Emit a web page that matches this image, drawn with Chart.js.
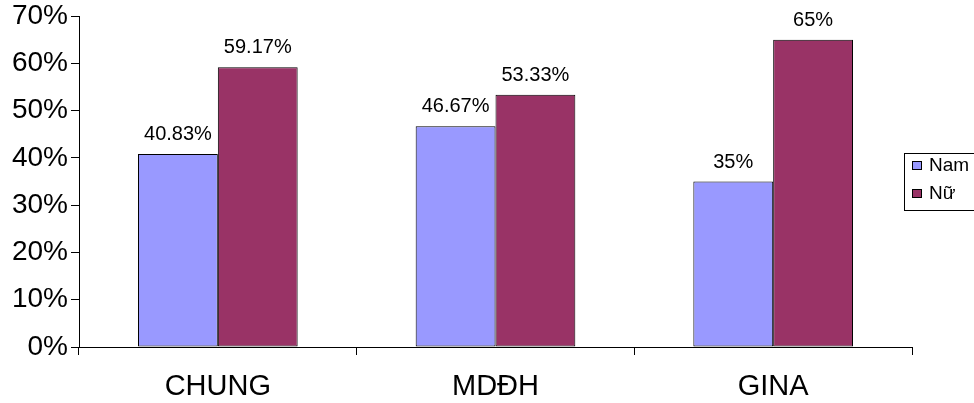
<!DOCTYPE html>
<html lang="vi">
<head>
    <meta charset="UTF-8">
    <title>Nam / Nữ</title>
    <script src="https://cdn.jsdelivr.net/npm/chart.js@4.4.0/dist/chart.umd.min.js"></script>
    <style>
        html, body { margin: 0; padding: 0; background: #ffffff; }
        #wrap { width: 974px; height: 403px; }
    </style>
</head>
<body>
    <div id="wrap"><canvas id="genderChart" width="974" height="403"></canvas></div>

    <script>
        // Data
        const categories = ['CHUNG', 'MDĐH', 'GINA'];
        const namValues = [40.83, 46.67, 35];
        const nuValues = [59.17, 53.33, 65];
        const namLabels = ['40.83%', '46.67%', '35%'];
        const nuLabels = ['59.17%', '53.33%', '65%'];
        const yTicks = [0, 10, 20, 30, 40, 50, 60, 70];

        const FONT = 'Liberation Sans, Arial, sans-serif';

        // Value labels above each bar
        const valueLabels = {
            id: 'valueLabels',
            afterDatasetsDraw(chart) {
                const ctx = chart.ctx;
                const texts = [namLabels, nuLabels];
                ctx.save();
                ctx.font = '20px ' + FONT;
                ctx.fillStyle = '#000000';
                ctx.textAlign = 'center';
                ctx.textBaseline = 'alphabetic';
                chart.data.datasets.forEach((ds, i) => {
                    chart.getDatasetMeta(i).data.forEach((bar, j) => {
                        ctx.fillText(texts[i][j], bar.x, bar.y - 14);
                    });
                });
                ctx.restore();
            }
        };

        // Boxed legend on the right, like the original
        const boxLegend = {
            id: 'boxLegend',
            afterDraw(chart) {
                const ctx = chart.ctx;
                ctx.save();
                ctx.strokeStyle = '#000000';
                ctx.lineWidth = 1;
                ctx.strokeRect(904.5, 153.5, 74, 57);
                chart.data.datasets.forEach((ds, i) => {
                    const y = 165 + i * 28;
                    ctx.fillStyle = ds.backgroundColor;
                    ctx.fillRect(912, y - 4, 10, 9);
                    ctx.strokeRect(912.5, y - 3.5, 9, 8);
                    ctx.fillStyle = '#000000';
                    ctx.font = '19px ' + FONT;
                    ctx.textBaseline = 'middle';
                    ctx.textAlign = 'left';
                    ctx.fillText(ds.label, 929, y + 1);
                });
                ctx.restore();
            }
        };

        const ctx = document.getElementById('genderChart').getContext('2d');
        new Chart(ctx, {
            type: 'bar',
            data: {
                labels: categories,
                datasets: [
                    {
                        label: 'Nam',
                        data: namValues,
                        backgroundColor: '#9999FF',
                        borderColor: '#000000',
                        borderWidth: 1,
                        borderSkipped: false,
                        categoryPercentage: 0.575,
                        barPercentage: 1
                    },
                    {
                        label: 'Nữ',
                        data: nuValues,
                        backgroundColor: '#993366',
                        borderColor: '#000000',
                        borderWidth: 1,
                        borderSkipped: false,
                        categoryPercentage: 0.575,
                        barPercentage: 1
                    }
                ]
            },
            options: {
                responsive: false,
                animation: false,
                layout: { padding: { top: 16, right: 62, left: 0, bottom: 0 } },
                plugins: {
                    legend: { display: false },
                    tooltip: { enabled: false }
                },
                scales: {
                    x: {
                        grid: {
                            offset: true,
                            drawOnChartArea: false,
                            drawTicks: true,
                            tickLength: 8,
                            color: '#000000'
                        },
                        border: { color: '#000000', width: 1 },
                        ticks: {
                            color: '#000000',
                            font: { family: FONT, size: 29 },
                            padding: 15
                        },
                        afterFit(scale) { scale.height = 56; }
                    },
                    y: {
                        min: 0,
                        max: 70,
                        afterBuildTicks(scale) {
                            scale.ticks = yTicks.map(v => ({ value: v }));
                        },
                        grid: {
                            drawOnChartArea: false,
                            drawTicks: true,
                            tickLength: 8,
                            color: '#000000'
                        },
                        border: { color: '#000000', width: 1 },
                        ticks: {
                            color: '#000000',
                            font: { family: FONT, size: 28, lineHeight: 0.9 },
                            padding: 3,
                            callback: v => v + '%'
                        },
                        afterFit(scale) { scale.width = 79; }
                    }
                }
            },
            plugins: [valueLabels, boxLegend]
        });
    </script>
</body>
</html>
